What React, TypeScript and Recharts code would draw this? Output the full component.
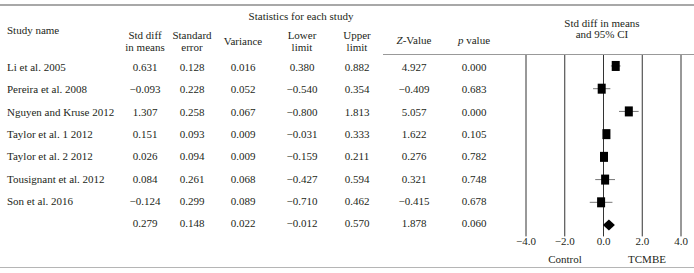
import React from 'react';
import { ScatterChart, Scatter, XAxis, YAxis, CartesianGrid, ErrorBar } from 'recharts';

const studyNames = [
  'Li et al. 2005',
  'Pereira et al. 2008',
  'Nguyen and Kruse 2012',
  'Taylor et al. 1 2012',
  'Taylor et al. 2 2012',
  'Tousignant et al. 2012',
  'Son et al. 2016',
];
const stdDiff = [0.631, -0.093, 1.307, 0.151, 0.026, 0.084, -0.124];
const stdError = [0.128, 0.228, 0.258, 0.093, 0.094, 0.261, 0.299];
const variance = [0.016, 0.052, 0.067, 0.009, 0.009, 0.068, 0.089];
const lowerLimit = [0.38, -0.54, -0.8, -0.031, -0.159, -0.427, -0.71];
const upperLimit = [0.882, 0.354, 1.813, 0.333, 0.211, 0.594, 0.462];
const zValue = [4.927, -0.409, 5.057, 1.622, 0.276, 0.321, -0.415];
const pValue = [0.0, 0.683, 0.0, 0.105, 0.782, 0.748, 0.678];
// the figure draws Nguyen's whisker from +0.800 (table prints -0.800)
const whiskerLower = [0.38, -0.54, 0.8, -0.031, -0.159, -0.427, -0.71];

// pooled row: diff, se, variance, lower, upper, z, p
const pooled = [0.279, 0.148, 0.022, -0.012, 0.57, 1.878, 0.06];

const xTicks = [-4, -2, 0, 2, 4];

const INK = '#231f20';
const FONT = '"Liberation Serif", "DejaVu Serif", serif';

const colX = [145, 192, 243, 302, 357, 414, 474];
const rowY = (i: number) => 67 + 22.3 * i;

const fmt = (v: number, d = 3) => (v < 0 ? '\u2212' + Math.abs(v).toFixed(d) : v.toFixed(d));

const studyPoints = stdDiff.map((v, i) => ({
  x: v,
  y: i,
  err: [v - whiskerLower[i], upperLimit[i] - v],
}));
const pooledPoint = [{ x: pooled[0], y: studyNames.length }];

function T({ x, y, children, align = 'center', lh = 12 }: any) {
  return (
    <div
      style={{
        position: 'absolute',
        left: x,
        top: y,
        transform: align === 'center' ? 'translate(-50%, -50%)' : 'translate(0, -50%)',
        whiteSpace: 'nowrap',
        textAlign: 'center',
        lineHeight: lh + 'px',
      }}
    >
      {children}
    </div>
  );
}

const Box = (props: any) => {
  const { cx, cy } = props;
  return <rect x={cx - 4} y={cy - 5} width={8} height={10} fill="#000" />;
};

const Diamond = (props: any) => {
  const { cx, cy } = props;
  return <polygon points={`${cx - 6},${cy} ${cx},${cy - 5.5} ${cx + 6},${cy} ${cx},${cy + 5.5}`} fill="#000" />;
};

export default function App() {
  const rows = studyNames.map((name, i) => [
    stdDiff[i],
    stdError[i],
    variance[i],
    lowerLimit[i],
    upperLimit[i],
    zValue[i],
    pValue[i],
  ]);

  return (
    <div
      style={{
        position: 'absolute',
        left: 0,
        top: 0,
        width: 694,
        height: 273,
        background: '#fff',
        fontFamily: FONT,
        fontSize: 11,
        color: INK,
        overflow: 'hidden',
      }}
    >
      <ScatterChart width={694} height={273} margin={{ top: 54.6, right: 13, bottom: 16.6, left: 526 }}>
        <CartesianGrid horizontal={false} stroke="#333" strokeWidth={1} />
        <XAxis
          type="number"
          dataKey="x"
          domain={[-4, 4]}
          ticks={xTicks}
          height={20}
          axisLine={false}
          tickLine={false}
          tickSize={0}
          tickMargin={1}
          tick={{ fill: INK, fontSize: 11, fontFamily: FONT }}
          tickFormatter={(v: number) => fmt(v, 1)}
        />
        <YAxis type="number" dataKey="y" domain={[-0.5, 7.5]} reversed hide />
        <Scatter data={studyPoints} shape={Box} isAnimationActive={false}>
          <ErrorBar dataKey="err" direction="x" width={0} stroke="#777" strokeWidth={1} />
        </Scatter>
        <Scatter data={pooledPoint} shape={Diamond} isAnimationActive={false} />
      </ScatterChart>

      <div style={{ position: 'absolute', left: 0, top: 4, width: 694, height: 2, background: '#a8a8a8' }} />
      <div style={{ position: 'absolute', left: 383, top: 54, width: 311, height: 1, background: '#999' }} />
      <div style={{ position: 'absolute', left: 0, top: 267, width: 694, height: 1, background: '#b5b5b5' }} />

      <T x={301} y={16}>Statistics for each study</T>
      <T x={7} y={30} align="left">Study name</T>
      <T x={colX[0]} y={41}>Std diff<br />in means</T>
      <T x={colX[1]} y={41}>Standard<br />error</T>
      <T x={colX[2]} y={41}>Variance</T>
      <T x={colX[3]} y={41}>Lower<br />limit</T>
      <T x={colX[4]} y={41}>Upper<br />limit</T>
      <T x={colX[5]} y={40}><i>Z</i>-Value</T>
      <T x={colX[6]} y={40}><i>p</i> value</T>
      <T x={602} y={29} lh={11}>Std diff in means<br />and 95% CI</T>

      {rows.map((vals, i) => (
        <React.Fragment key={i}>
          <T x={7} y={rowY(i)} align="left">{studyNames[i]}</T>
          {vals.map((v, j) => (
            <T key={j} x={colX[j]} y={rowY(i)}>{fmt(v)}</T>
          ))}
        </React.Fragment>
      ))}
      {pooled.map((v, j) => (
        <T key={j} x={colX[j]} y={rowY(7)}>{fmt(v)}</T>
      ))}

      <T x={565} y={259}>Control</T>
      <T x={647} y={259}>TCMBE</T>
    </div>
  );
}
